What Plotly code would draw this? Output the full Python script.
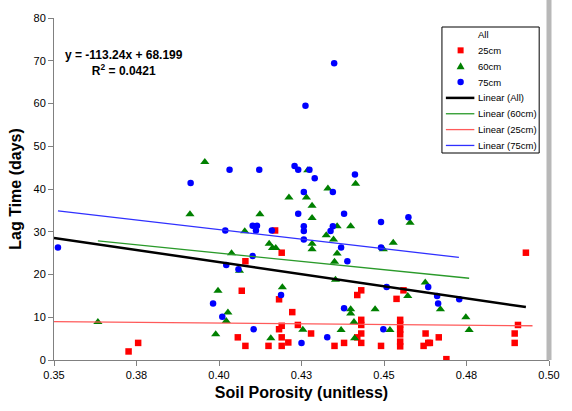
import numpy as np
import plotly.graph_objects as go

# ---- data ----
x_25 = [0.3726, 0.3755, 0.4057, 0.4069, 0.4080, 0.4080, 0.4150, 0.4170, 0.4182, 0.4182,
        0.4190, 0.4190, 0.4190, 0.4190, 0.4210, 0.4222, 0.4239, 0.4279, 0.4350, 0.4379,
        0.4419, 0.4431, 0.4431, 0.4431, 0.4431, 0.4419, 0.4431, 0.4491, 0.4538, 0.4559,
        0.4549, 0.4549, 0.4549, 0.4549, 0.4549, 0.4549, 0.4626, 0.4666, 0.4620, 0.4634,
        0.4639, 0.4689, 0.4896, 0.4896, 0.4906, 0.4930]
y_25 = [2.0, 4.0, 5.3, 16.2, 23.1, 3.3, 3.3, 30.3, 14.2, 7.2,
        25.1, 8.0, 5.3, 3.3, 4.1, 11.2, 8.2, 6.2, 3.3, 4.0,
        15.2, 16.3, 9.4, 8.2, 6.2, 5.3, 4.0, 3.3, 14.3, 16.3,
        9.4, 8.3, 7.1, 6.0, 4.3, 3.2, 6.2, 5.3, 3.3, 4.0,
        4.0, 0.2, 4.0, 6.2, 8.2, 25.1]

x_60 = [0.3633, 0.3912, 0.3957, 0.3990, 0.3997, 0.4022, 0.4027, 0.4038, 0.4062, 0.4078,
        0.4124, 0.4152, 0.4157, 0.4162, 0.4172, 0.4192, 0.4212, 0.4254, 0.4265, 0.4269,
        0.4282, 0.4282, 0.4282, 0.4282, 0.4325, 0.4330, 0.4347, 0.4350, 0.4353, 0.4358,
        0.4358, 0.4370, 0.4399, 0.4399, 0.4399, 0.4409, 0.4411, 0.4414, 0.4473, 0.4498,
        0.4518, 0.4528, 0.4572, 0.4579, 0.4625, 0.4671, 0.4748, 0.4758]
y_60 = [8.9, 34.1, 46.3, 6.0, 16.2, 9.1, 11.1, 25.0, 20.9, 30.1,
        34.1, 27.2, 5.1, 26.2, 26.2, 17.0, 38.0, 7.1, 38.0, 44.4,
        36.1, 33.2, 27.2, 25.9, 29.2, 40.1, 28.2, 23.0, 18.8, 31.3,
        24.9, 7.0, 31.3, 11.9, 10.9, 8.9, 5.1, 41.2, 11.9, 25.9,
        7.0, 27.4, 15.0, 32.1, 18.1, 11.9, 10.0, 7.0]

x_75 = [0.3512, 0.3914, 0.3982, 0.4010, 0.4019, 0.4022, 0.4032, 0.4059, 0.4102, 0.4115,
        0.4112, 0.4102, 0.4105, 0.4122, 0.4160, 0.4188, 0.4229, 0.4240, 0.4240, 0.4250,
        0.4257, 0.4257, 0.4257, 0.4257, 0.4262, 0.4274, 0.4290, 0.4328, 0.4338, 0.4345,
        0.4345, 0.4349, 0.4370, 0.4379, 0.4379, 0.4389, 0.4412, 0.4491, 0.4491, 0.4498,
        0.4508, 0.4574, 0.4634, 0.4661, 0.4664, 0.4728]
y_75 = [26.3, 41.4, 13.2, 10.1, 30.3, 22.2, 44.5, 21.2, 31.4, 31.4,
        30.3, 24.3, 7.2, 44.5, 30.3, 15.2, 45.4, 44.5, 34.2, 4.0,
        39.3, 31.3, 30.2, 28.2, 59.5, 44.5, 42.5, 5.3, 30.2, 39.3,
        31.3, 69.4, 26.3, 34.2, 12.1, 23.1, 43.4, 32.3, 26.3, 7.2,
        17.1, 33.4, 17.1, 15.0, 13.2, 14.2]

# trendlines: [slope, intercept, x_start, x_end]
fit_all = [-113.24, 68.199, 0.350, 0.493]
fit_60 = [-77.5, 56.0, 0.3633, 0.4758]
fit_25 = [-6.5, 11.23, 0.350, 0.495]
fit_75 = [-89.7, 66.4, 0.3512, 0.4727]

x_tickvals = [0.35, 0.375, 0.40, 0.425, 0.45, 0.475, 0.50]
x_ticktext = ["0.35", "0.38", "0.40", "0.43", "0.45", "0.48", "0.50"]
y_tickvals = [0, 10, 20, 30, 40, 50, 60, 70, 80]

legend_labels = ["All", "25cm", "60cm", "75cm",
                 "Linear (All)", "Linear (60cm)", "Linear (25cm)", "Linear (75cm)"]

FONT = "Arial, Liberation Sans, sans-serif"
C25, C60, C75 = "#ff0000", "#008000", "#0000ff"
L25, L60, L75, LALL = "#ff5a5a", "#2a9a2a", "#3030ff", "#000000"

# figure geometry (pixels)
W, H = 572, 411
ML, MR, MT, MB = 54, 14, 18, 51
PW, PH = W - ML - MR, H - MT - MB


def px(xp):
    return (xp - ML) / PW


def py(yp):
    return (H - MB - yp) / PH


fig = go.Figure()
fig.add_trace(go.Scatter(x=x_25, y=y_25, mode="markers", name="25cm",
                         marker=dict(symbol="square", size=6.5, color=C25)))
fig.add_trace(go.Scatter(x=x_60, y=y_60, mode="markers", name="60cm",
                         marker=dict(symbol="triangle-up", size=8, color=C60)))
fig.add_trace(go.Scatter(x=x_75, y=y_75, mode="markers", name="75cm",
                         marker=dict(symbol="circle", size=6.5, color=C75)))

fits = [(fit_all, "Linear (All)", LALL, 2.5),
        (fit_60, "Linear (60cm)", L60, 1.3),
        (fit_25, "Linear (25cm)", L25, 1.3),
        (fit_75, "Linear (75cm)", L75, 1.3)]
for fit, name, color, w in fits:
    xs = np.array([fit[2], fit[3]])
    fig.add_trace(go.Scatter(x=xs, y=fit[0] * xs + fit[1], mode="lines", name=name,
                             line=dict(color=color, width=w)))

# regression equation
fig.add_annotation(xref="paper", yref="paper", x=px(125), y=py(63),
                   xanchor="center", yanchor="middle", showarrow=False, align="center",
                   text="<b>y = -113.24x + 68.199<br>R<sup>2</sup> = 0.0421</b>",
                   font=dict(family=FONT, size=12, color="black"))

# right border of the plot area
fig.add_shape(type="line", xref="paper", yref="paper", x0=1.0, x1=1.0,
              y0=0, y1=py(0), line=dict(color="#b8b8b8", width=5))

# ---- legend box (drawn as a framed key, Excel style) ----
LG_L, LG_R, LG_T, LG_B = 449, 548, 27, 153
fig.add_shape(type="rect", xref="paper", yref="paper",
              x0=px(LG_L), x1=px(LG_R), y0=py(LG_B), y1=py(LG_T),
              line=dict(color="black", width=1), fillcolor="white")
row0, step = 34.5, 15.85
sym_x = 468
for i, lab in enumerate(legend_labels):
    yy = py(row0 + i * step)
    fig.add_annotation(xref="paper", yref="paper", x=px(484), y=yy,
                       xanchor="left", yanchor="middle", showarrow=False,
                       text=lab, font=dict(family=FONT, size=9.5, color="black"))
    common = dict(xref="paper", yref="paper", xsizemode="pixel", ysizemode="pixel",
                  xanchor=px(sym_x), yanchor=yy)
    if lab == "25cm":
        fig.add_shape(type="rect", x0=-3, x1=3, y0=-3, y1=3, fillcolor=C25,
                      line=dict(width=0), **common)
    elif lab == "60cm":
        fig.add_shape(type="path", path="M -4,-3 L 4,-3 L 0,4 Z", fillcolor=C60,
                      line=dict(width=0), **common)
    elif lab == "75cm":
        fig.add_shape(type="circle", x0=-3.2, x1=3.2, y0=-3.2, y1=3.2, fillcolor=C75,
                      line=dict(width=0), **common)
    elif lab.startswith("Linear"):
        for fit, name, color, w in fits:
            if name == lab:
                fig.add_shape(type="line", xref="paper", yref="paper",
                              x0=px(453), x1=px(482), y0=yy, y1=yy,
                              line=dict(color=color, width=w))

fig.update_layout(
    width=W, height=H,
    margin=dict(l=ML, r=MR, t=MT, b=MB),
    paper_bgcolor="white", plot_bgcolor="white",
    font=dict(family=FONT, size=11, color="black"),
    showlegend=False,
    xaxis=dict(range=[0.35, 0.50], tickvals=x_tickvals, ticktext=x_ticktext,
               ticks="outside", ticklen=5, tickcolor="#808080",
               showline=True, linecolor="#808080", linewidth=1,
               showgrid=False, zeroline=False,
               tickfont=dict(family=FONT, size=11, color="black"),
               title=dict(text="<b>Soil Porosity (unitless)</b>", standoff=6,
                          font=dict(family=FONT, size=16, color="black"))),
    yaxis=dict(range=[0, 80], tickvals=y_tickvals,
               ticks="outside", ticklen=5, tickcolor="#808080",
               showline=True, linecolor="#808080", linewidth=1,
               showgrid=False, zeroline=False,
               tickfont=dict(family=FONT, size=11, color="black"),
               title=dict(text="<b>Lag Time (days)</b>", standoff=7,
                          font=dict(family=FONT, size=16, color="black"))),
)

fig.write_html("out.html")
